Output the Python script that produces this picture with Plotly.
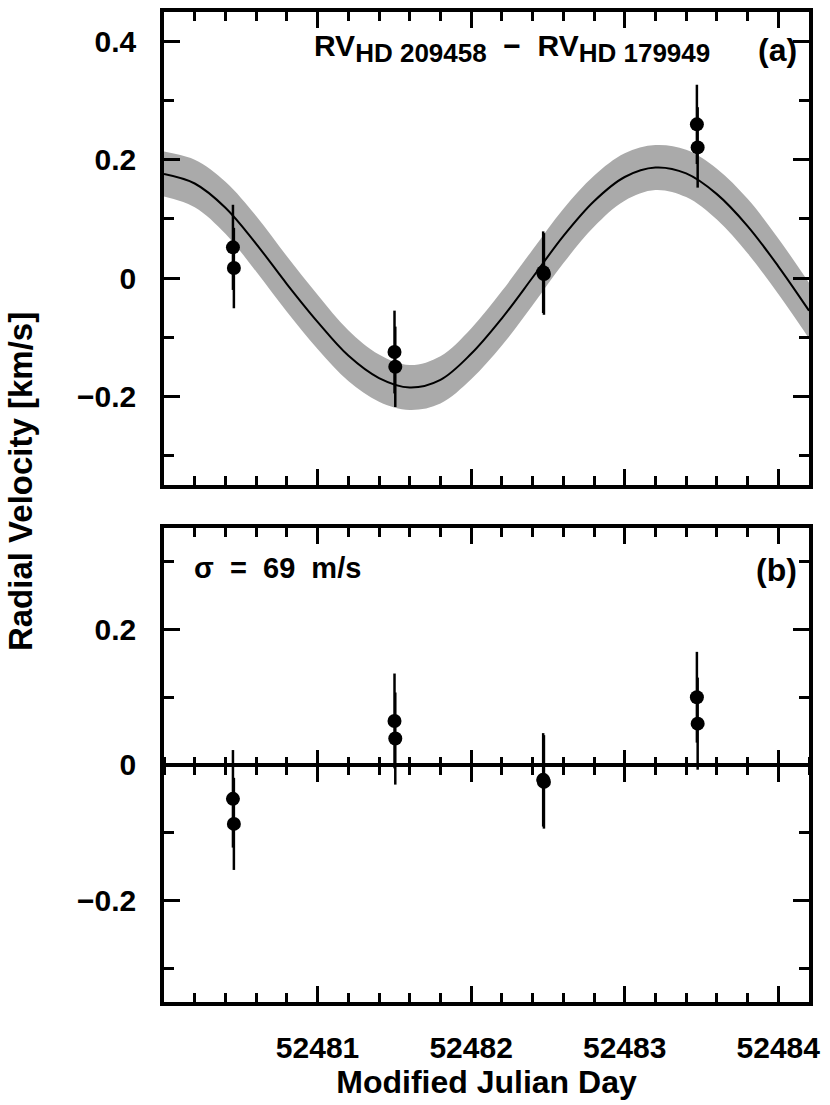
import plotly.graph_objects as go

# ---- data ----
model_t = [52480.0, 52480.2, 52480.4, 52480.6, 52480.8, 52481.0, 52481.2, 52481.4,
           52481.6, 52481.8, 52482.0, 52482.2, 52482.4, 52482.6, 52482.8, 52483.0,
           52483.2, 52483.4, 52483.6, 52483.8, 52484.0, 52484.2]
model_v = [0.176, 0.160, 0.119, 0.058, -0.010, -0.074, -0.131, -0.169,
           -0.185, -0.172, -0.128, -0.068, 0.001, 0.071, 0.130, 0.171,
           0.187, 0.177, 0.142, 0.088, 0.020, -0.055]
band_hi = [0.214, 0.200, 0.163, 0.105, 0.037, -0.028, -0.088, -0.129,
           -0.147, -0.132, -0.085, -0.022, 0.048, 0.117, 0.173, 0.211,
           0.225, 0.217, 0.185, 0.134, 0.067, -0.008]
band_lo = [0.138, 0.120, 0.075, 0.011, -0.057, -0.120, -0.174, -0.209,
           -0.223, -0.212, -0.171, -0.114, -0.046, 0.025, 0.087, 0.131,
           0.149, 0.137, 0.099, 0.042, -0.027, -0.102]

obs_t = [52480.449, 52480.455, 52481.501, 52481.506,
         52482.469, 52482.474, 52483.470, 52483.475]
rv_diff = [0.052, 0.017, -0.125, -0.150, 0.010, 0.007, 0.260, 0.221]
rv_err = [0.072, 0.068, 0.070, 0.068, 0.069, 0.069, 0.067, 0.068]
resid = [-0.050, -0.087, 0.065, 0.039, -0.022, -0.025, 0.100, 0.061]

x_ticks = [52481, 52482, 52483, 52484]
x_ticktext = ["52481", "52482", "52483", "52484"]
x_range = [52480.0, 52484.2]
y_range_top = [-0.35, 0.45]
y_range_bot = [-0.35, 0.35]

FONT = "Liberation Sans"
W, H = 830, 1105
ML, MR, MT, MB = 164, 21, 8, 103
PW, PH = W - ML - MR, H - MT - MB


def px_x(p):
    return (p - ML) / PW


def px_y(p):
    return (H - MB - p) / PH


top_dom = [px_y(483), 1.0]
bot_dom = [0.0, px_y(526)]
zero_pos = bot_dom[0] + (bot_dom[1] - bot_dom[0]) * (0 - y_range_bot[0]) / (y_range_bot[1] - y_range_bot[0])

fig = go.Figure()
fig.add_trace(go.Scatter(x=model_t, y=band_lo, mode="lines",
                         line=dict(width=0, color="#aaaaaa", shape="spline"),
                         xaxis="x", yaxis="y", hoverinfo="skip", showlegend=False))
fig.add_trace(go.Scatter(x=model_t, y=band_hi, mode="lines", fill="tonexty",
                         fillcolor="#aaaaaa",
                         line=dict(width=0, color="#aaaaaa", shape="spline"),
                         xaxis="x", yaxis="y", hoverinfo="skip", showlegend=False))
fig.add_trace(go.Scatter(x=model_t, y=model_v, mode="lines",
                         line=dict(width=2, color="black", shape="spline"),
                         xaxis="x", yaxis="y", showlegend=False))
fig.add_trace(go.Scatter(x=obs_t, y=rv_diff, mode="markers",
                         marker=dict(size=14, color="black"),
                         error_y=dict(type="data", array=rv_err, thickness=2.5, width=0, color="black"),
                         xaxis="x", yaxis="y", showlegend=False))
fig.add_trace(go.Scatter(x=obs_t, y=resid, mode="markers",
                         marker=dict(size=14, color="black"),
                         error_y=dict(type="data", array=rv_err, thickness=2.5, width=0, color="black"),
                         xaxis="x2", yaxis="y2", showlegend=False))
# carriers for the zero-line axes of panel (b)
fig.add_trace(go.Scatter(x=[None], y=[None], xaxis="x3", yaxis="y2", showlegend=False, hoverinfo="skip"))
fig.add_trace(go.Scatter(x=[None], y=[None], xaxis="x4", yaxis="y2", showlegend=False, hoverinfo="skip"))

common_x = dict(range=x_range, tickmode="array", tickvals=x_ticks, ticktext=x_ticktext,
                ticks="inside", ticklen=16, tickwidth=3, tickcolor="black",
                minor=dict(ticks="inside", dtick=0.2, tick0=52480, ticklen=9, tickwidth=3, tickcolor="black"),
                showline=True, linewidth=3.5, linecolor="black", mirror="ticks",
                showgrid=False, zeroline=False)
common_y = dict(tickmode="linear", tick0=0, dtick=0.2,
                ticks="inside", ticklen=16, tickwidth=3, tickcolor="black",
                minor=dict(ticks="inside", dtick=0.1, tick0=0, ticklen=10, tickwidth=3, tickcolor="black"),
                showline=True, linewidth=3.5, linecolor="black", mirror="ticks",
                showgrid=False, zeroline=False, ticklabelstandoff=18,
                tickfont=dict(size=30))

zero_x = dict(range=x_range, tickmode="array", tickvals=x_ticks, overlaying="x2",
              anchor="free", position=zero_pos, showticklabels=False,
              ticks="outside", ticklen=15, tickwidth=3, tickcolor="black",
              minor=dict(ticks="outside", dtick=0.2, tick0=52480, ticklen=8, tickwidth=3, tickcolor="black"),
              showgrid=False, zeroline=False)

fig.update_layout(
    width=W, height=H,
    margin=dict(l=ML, r=MR, t=MT, b=MB),
    paper_bgcolor="white", plot_bgcolor="white",
    font=dict(family=FONT, size=30, color="black", weight="bold"),
    showlegend=False,
    xaxis=dict(domain=[0, 1], anchor="y", showticklabels=False, **common_x),
    yaxis=dict(domain=top_dom, anchor="x", range=y_range_top, **common_y),
    xaxis2=dict(domain=[0, 1], anchor="y2", showticklabels=True,
                tickfont=dict(size=30), ticklabelstandoff=16,
                title=dict(text="Modified Julian Day", font=dict(size=32), standoff=7),
                **common_x),
    yaxis2=dict(domain=bot_dom, anchor="x2", range=y_range_bot, **common_y),
    xaxis3=dict(side="bottom", showline=True, linewidth=3.5, linecolor="black", **zero_x),
    xaxis4=dict(side="top", showline=False, **zero_x),
)

sub_style = "font-size:26px"
annotations = [
    dict(text=("RV<sub><span style='%s'>HD 209458</span></sub>\u00a0\u00a0\u2212\u00a0\u00a0"
               "RV<sub><span style='%s'>HD 179949</span></sub>") % (sub_style, sub_style),
         xref="paper", yref="paper", x=px_x(512), y=px_y(23), xanchor="center", yanchor="top",
         showarrow=False, font=dict(size=30)),
    dict(text="(a)", xref="paper", yref="paper", x=px_x(799), y=px_y(46),
         xanchor="right", yanchor="middle", showarrow=False, font=dict(size=32)),
    dict(text="(b)", xref="paper", yref="paper", x=px_x(799), y=px_y(568),
         xanchor="right", yanchor="middle", showarrow=False, font=dict(size=32)),
    dict(text="\u03c3\u00a0\u00a0=\u00a0\u00a069\u00a0\u00a0m/s", xref="paper", yref="paper",
         x=px_x(192), y=px_y(566), xanchor="left", yanchor="middle",
         showarrow=False, font=dict(size=29)),
    dict(text="Radial Velocity [km/s]", xref="paper", yref="paper",
         x=px_x(20), y=px_y(480), xanchor="center", yanchor="middle", textangle=-90,
         showarrow=False, font=dict(size=33)),
]
fig.update_layout(annotations=annotations)

fig.write_html("out.html", config={"displayModeBar": False},
               post_script="document.body.style.margin='0px';document.body.style.overflow='hidden';")
